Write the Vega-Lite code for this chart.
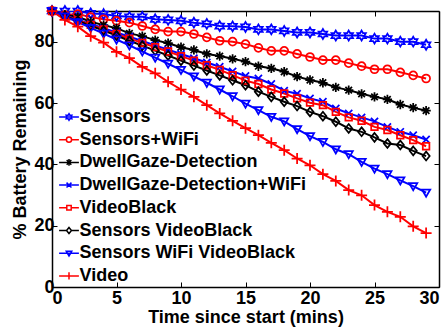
{
  "$schema": "https://vega.github.io/schema/vega-lite/v6.json",
  "width": 387,
  "height": 276,
  "autosize": {"type": "none"},
  "padding": {"left": 52, "top": 11, "right": 9, "bottom": 44},
  "background": "white",
  "config": {
    "view": {"stroke": null},
    "font": "Liberation Sans",
    "axis": {
      "domainColor": "black", "domainWidth": 1.5, "tickColor": "black", "tickWidth": 1,
      "labelFont": "Liberation Sans", "labelFontWeight": "bold", "labelFontSize": 18, "labelColor": "black",
      "titleFont": "Liberation Sans", "titleFontWeight": "bold", "titleFontSize": 18, "titleColor": "black",
      "grid": false, "tickSize": -5
    }
  },
  "data": {"values": [
    {"s":"Sensors","t":0,"v":90},{"s":"Sensors","t":1,"v":90},{"s":"Sensors","t":2,"v":90},{"s":"Sensors","t":3,"v":89.2},{"s":"Sensors","t":4,"v":89},{"s":"Sensors","t":5,"v":88.4},{"s":"Sensors","t":6,"v":88.1},{"s":"Sensors","t":7,"v":88.1},{"s":"Sensors","t":8,"v":87.3},{"s":"Sensors","t":9,"v":87.1},{"s":"Sensors","t":10,"v":86.8},{"s":"Sensors","t":11,"v":86.2},{"s":"Sensors","t":12,"v":85.8},{"s":"Sensors","t":13,"v":85.1},{"s":"Sensors","t":14,"v":85},{"s":"Sensors","t":15,"v":84.8},{"s":"Sensors","t":16,"v":84},{"s":"Sensors","t":17,"v":84},{"s":"Sensors","t":18,"v":83.5},{"s":"Sensors","t":19,"v":83},{"s":"Sensors","t":20,"v":83},{"s":"Sensors","t":21,"v":82.5},{"s":"Sensors","t":22,"v":82},{"s":"Sensors","t":23,"v":82},{"s":"Sensors","t":24,"v":82},{"s":"Sensors","t":25,"v":81},{"s":"Sensors","t":26,"v":81},{"s":"Sensors","t":27,"v":80},{"s":"Sensors","t":28,"v":80},{"s":"Sensors","t":29,"v":79},
    {"s":"Sensors+WiFi","t":0,"v":90},{"s":"Sensors+WiFi","t":1,"v":88.7},{"s":"Sensors+WiFi","t":2,"v":89},{"s":"Sensors+WiFi","t":3,"v":88},{"s":"Sensors+WiFi","t":4,"v":87.3},{"s":"Sensors+WiFi","t":5,"v":86.8},{"s":"Sensors+WiFi","t":6,"v":86.2},{"s":"Sensors+WiFi","t":7,"v":85.1},{"s":"Sensors+WiFi","t":8,"v":84},{"s":"Sensors+WiFi","t":9,"v":83.3},{"s":"Sensors+WiFi","t":10,"v":83.3},{"s":"Sensors+WiFi","t":11,"v":82.5},{"s":"Sensors+WiFi","t":12,"v":81.4},{"s":"Sensors+WiFi","t":13,"v":80.3},{"s":"Sensors+WiFi","t":14,"v":80},{"s":"Sensors+WiFi","t":15,"v":79.2},{"s":"Sensors+WiFi","t":16,"v":78},{"s":"Sensors+WiFi","t":17,"v":77},{"s":"Sensors+WiFi","t":18,"v":77},{"s":"Sensors+WiFi","t":19,"v":76},{"s":"Sensors+WiFi","t":20,"v":75},{"s":"Sensors+WiFi","t":21,"v":74},{"s":"Sensors+WiFi","t":22,"v":74},{"s":"Sensors+WiFi","t":23,"v":73},{"s":"Sensors+WiFi","t":24,"v":72},{"s":"Sensors+WiFi","t":25,"v":71},{"s":"Sensors+WiFi","t":26,"v":71},{"s":"Sensors+WiFi","t":27,"v":70},{"s":"Sensors+WiFi","t":28,"v":69},{"s":"Sensors+WiFi","t":29,"v":68},
    {"s":"DwellGaze-Detection","t":0,"v":90},{"s":"DwellGaze-Detection","t":1,"v":88.7},{"s":"DwellGaze-Detection","t":2,"v":88.1},{"s":"DwellGaze-Detection","t":3,"v":86.5},{"s":"DwellGaze-Detection","t":4,"v":85.4},{"s":"DwellGaze-Detection","t":5,"v":84.4},{"s":"DwellGaze-Detection","t":6,"v":82.7},{"s":"DwellGaze-Detection","t":7,"v":81.8},{"s":"DwellGaze-Detection","t":8,"v":80.5},{"s":"DwellGaze-Detection","t":9,"v":79.5},{"s":"DwellGaze-Detection","t":10,"v":78.2},{"s":"DwellGaze-Detection","t":11,"v":77.3},{"s":"DwellGaze-Detection","t":12,"v":76},{"s":"DwellGaze-Detection","t":13,"v":75.3},{"s":"DwellGaze-Detection","t":14,"v":74.4},{"s":"DwellGaze-Detection","t":15,"v":73.5},{"s":"DwellGaze-Detection","t":16,"v":72},{"s":"DwellGaze-Detection","t":17,"v":71.3},{"s":"DwellGaze-Detection","t":18,"v":70.2},{"s":"DwellGaze-Detection","t":19,"v":68.6},{"s":"DwellGaze-Detection","t":20,"v":67.5},{"s":"DwellGaze-Detection","t":21,"v":66.6},{"s":"DwellGaze-Detection","t":22,"v":65.1},{"s":"DwellGaze-Detection","t":23,"v":64.2},{"s":"DwellGaze-Detection","t":24,"v":63},{"s":"DwellGaze-Detection","t":25,"v":62},{"s":"DwellGaze-Detection","t":26,"v":61.2},{"s":"DwellGaze-Detection","t":27,"v":59.5},{"s":"DwellGaze-Detection","t":28,"v":58.5},{"s":"DwellGaze-Detection","t":29,"v":57.5},
    {"s":"DwellGaze-Detection+WiFi","t":0,"v":90},{"s":"DwellGaze-Detection+WiFi","t":1,"v":88.6},{"s":"DwellGaze-Detection+WiFi","t":2,"v":87.2},{"s":"DwellGaze-Detection+WiFi","t":3,"v":85.8},{"s":"DwellGaze-Detection+WiFi","t":4,"v":84.4},{"s":"DwellGaze-Detection+WiFi","t":5,"v":83},{"s":"DwellGaze-Detection+WiFi","t":6,"v":81.6},{"s":"DwellGaze-Detection+WiFi","t":7,"v":80.2},{"s":"DwellGaze-Detection+WiFi","t":8,"v":78.8},{"s":"DwellGaze-Detection+WiFi","t":9,"v":77.4},{"s":"DwellGaze-Detection+WiFi","t":10,"v":76},{"s":"DwellGaze-Detection+WiFi","t":11,"v":74.6},{"s":"DwellGaze-Detection+WiFi","t":12,"v":73.2},{"s":"DwellGaze-Detection+WiFi","t":13,"v":71.8},{"s":"DwellGaze-Detection+WiFi","t":14,"v":70.3},{"s":"DwellGaze-Detection+WiFi","t":15,"v":68.8},{"s":"DwellGaze-Detection+WiFi","t":16,"v":68},{"s":"DwellGaze-Detection+WiFi","t":17,"v":66.2},{"s":"DwellGaze-Detection+WiFi","t":18,"v":64},{"s":"DwellGaze-Detection+WiFi","t":19,"v":63},{"s":"DwellGaze-Detection+WiFi","t":20,"v":61.5},{"s":"DwellGaze-Detection+WiFi","t":21,"v":60.4},{"s":"DwellGaze-Detection+WiFi","t":22,"v":58.2},{"s":"DwellGaze-Detection+WiFi","t":23,"v":56.6},{"s":"DwellGaze-Detection+WiFi","t":24,"v":55.3},{"s":"DwellGaze-Detection+WiFi","t":25,"v":54},{"s":"DwellGaze-Detection+WiFi","t":26,"v":52.2},{"s":"DwellGaze-Detection+WiFi","t":27,"v":50.6},{"s":"DwellGaze-Detection+WiFi","t":28,"v":49.5},{"s":"DwellGaze-Detection+WiFi","t":29,"v":48.1},
    {"s":"VideoBlack","t":0,"v":90},{"s":"VideoBlack","t":1,"v":88.5},{"s":"VideoBlack","t":2,"v":87},{"s":"VideoBlack","t":3,"v":85.5},{"s":"VideoBlack","t":4,"v":84},{"s":"VideoBlack","t":5,"v":82.5},{"s":"VideoBlack","t":6,"v":81},{"s":"VideoBlack","t":7,"v":79.6},{"s":"VideoBlack","t":8,"v":78.2},{"s":"VideoBlack","t":9,"v":76.8},{"s":"VideoBlack","t":10,"v":75.3},{"s":"VideoBlack","t":11,"v":73.8},{"s":"VideoBlack","t":12,"v":72.3},{"s":"VideoBlack","t":13,"v":70.8},{"s":"VideoBlack","t":14,"v":69.1},{"s":"VideoBlack","t":15,"v":67.3},{"s":"VideoBlack","t":16,"v":66.2},{"s":"VideoBlack","t":17,"v":64.4},{"s":"VideoBlack","t":18,"v":63.1},{"s":"VideoBlack","t":19,"v":61.5},{"s":"VideoBlack","t":20,"v":60.1},{"s":"VideoBlack","t":21,"v":59.3},{"s":"VideoBlack","t":22,"v":57.1},{"s":"VideoBlack","t":23,"v":55.3},{"s":"VideoBlack","t":24,"v":54.2},{"s":"VideoBlack","t":25,"v":52.2},{"s":"VideoBlack","t":26,"v":51.2},{"s":"VideoBlack","t":27,"v":49.5},{"s":"VideoBlack","t":28,"v":47.9},{"s":"VideoBlack","t":29,"v":45.9},
    {"s":"Sensors VideoBlack","t":0,"v":90},{"s":"Sensors VideoBlack","t":1,"v":88.4},{"s":"Sensors VideoBlack","t":2,"v":86.8},{"s":"Sensors VideoBlack","t":3,"v":85.2},{"s":"Sensors VideoBlack","t":4,"v":83.6},{"s":"Sensors VideoBlack","t":5,"v":82},{"s":"Sensors VideoBlack","t":6,"v":80.3},{"s":"Sensors VideoBlack","t":7,"v":78.7},{"s":"Sensors VideoBlack","t":8,"v":77.1},{"s":"Sensors VideoBlack","t":9,"v":75.5},{"s":"Sensors VideoBlack","t":10,"v":73.8},{"s":"Sensors VideoBlack","t":11,"v":72.2},{"s":"Sensors VideoBlack","t":12,"v":70.6},{"s":"Sensors VideoBlack","t":13,"v":69},{"s":"Sensors VideoBlack","t":14,"v":67.4},{"s":"Sensors VideoBlack","t":15,"v":65.8},{"s":"Sensors VideoBlack","t":16,"v":63.7},{"s":"Sensors VideoBlack","t":17,"v":62},{"s":"Sensors VideoBlack","t":18,"v":60.4},{"s":"Sensors VideoBlack","t":19,"v":59},{"s":"Sensors VideoBlack","t":20,"v":57.1},{"s":"Sensors VideoBlack","t":21,"v":55.7},{"s":"Sensors VideoBlack","t":22,"v":53.9},{"s":"Sensors VideoBlack","t":23,"v":51.7},{"s":"Sensors VideoBlack","t":24,"v":50.6},{"s":"Sensors VideoBlack","t":25,"v":48.8},{"s":"Sensors VideoBlack","t":26,"v":46.8},{"s":"Sensors VideoBlack","t":27,"v":46.3},{"s":"Sensors VideoBlack","t":28,"v":44.4},{"s":"Sensors VideoBlack","t":29,"v":42.7},
    {"s":"Sensors WiFi VideoBlack","t":0,"v":90},{"s":"Sensors WiFi VideoBlack","t":1,"v":88.2},{"s":"Sensors WiFi VideoBlack","t":2,"v":86.4},{"s":"Sensors WiFi VideoBlack","t":3,"v":84.5},{"s":"Sensors WiFi VideoBlack","t":4,"v":82.6},{"s":"Sensors WiFi VideoBlack","t":5,"v":80.7},{"s":"Sensors WiFi VideoBlack","t":6,"v":78.8},{"s":"Sensors WiFi VideoBlack","t":7,"v":76.8},{"s":"Sensors WiFi VideoBlack","t":8,"v":74.8},{"s":"Sensors WiFi VideoBlack","t":9,"v":72.8},{"s":"Sensors WiFi VideoBlack","t":10,"v":70.8},{"s":"Sensors WiFi VideoBlack","t":11,"v":68.7},{"s":"Sensors WiFi VideoBlack","t":12,"v":66.6},{"s":"Sensors WiFi VideoBlack","t":13,"v":64.4},{"s":"Sensors WiFi VideoBlack","t":14,"v":62.2},{"s":"Sensors WiFi VideoBlack","t":15,"v":59.8},{"s":"Sensors WiFi VideoBlack","t":16,"v":57.7},{"s":"Sensors WiFi VideoBlack","t":17,"v":55.5},{"s":"Sensors WiFi VideoBlack","t":18,"v":54},{"s":"Sensors WiFi VideoBlack","t":19,"v":51.5},{"s":"Sensors WiFi VideoBlack","t":20,"v":49.2},{"s":"Sensors WiFi VideoBlack","t":21,"v":47.3},{"s":"Sensors WiFi VideoBlack","t":22,"v":44.9},{"s":"Sensors WiFi VideoBlack","t":23,"v":43.3},{"s":"Sensors WiFi VideoBlack","t":24,"v":40.8},{"s":"Sensors WiFi VideoBlack","t":25,"v":38.6},{"s":"Sensors WiFi VideoBlack","t":26,"v":36.8},{"s":"Sensors WiFi VideoBlack","t":27,"v":34.8},{"s":"Sensors WiFi VideoBlack","t":28,"v":32.9},{"s":"Sensors WiFi VideoBlack","t":29,"v":30.8},
    {"s":"Video","t":0,"v":90},{"s":"Video","t":1,"v":87.1},{"s":"Video","t":2,"v":84.9},{"s":"Video","t":3,"v":81.8},{"s":"Video","t":4,"v":79.7},{"s":"Video","t":5,"v":76.7},{"s":"Video","t":6,"v":74.6},{"s":"Video","t":7,"v":71.8},{"s":"Video","t":8,"v":69.7},{"s":"Video","t":9,"v":66.9},{"s":"Video","t":10,"v":64.4},{"s":"Video","t":11,"v":62},{"s":"Video","t":12,"v":59.3},{"s":"Video","t":13,"v":56.6},{"s":"Video","t":14,"v":54.2},{"s":"Video","t":15,"v":51.8},{"s":"Video","t":16,"v":49.5},{"s":"Video","t":17,"v":47},{"s":"Video","t":18,"v":44.6},{"s":"Video","t":19,"v":41.9},{"s":"Video","t":20,"v":39.7},{"s":"Video","t":21,"v":36.8},{"s":"Video","t":22,"v":34.6},{"s":"Video","t":23,"v":31.6},{"s":"Video","t":24,"v":29.9},{"s":"Video","t":25,"v":26.7},{"s":"Video","t":26,"v":24.5},{"s":"Video","t":27,"v":22.9},{"s":"Video","t":28,"v":19.8},{"s":"Video","t":29,"v":17.6}
  ]},
  "resolve": {
    "scale": {"shape": "independent", "color": "independent"},
    "axis": {"x": "independent", "y": "independent"},
    "legend": {"shape": "independent", "color": "independent"}
  },
  "layer": [
    {
      "mark": {"type": "line", "strokeWidth": 2, "clip": true},
      "encoding": {
        "x": {"field": "t", "type": "quantitative", "scale": {"domain": [0, 30], "nice": false},
              "axis": {"orient": "bottom", "values": [0,5,10,15,20,25,30], "title": "Time since start (mins)", "labelPadding": 7, "titlePadding": 1}},
        "y": {"field": "v", "type": "quantitative", "scale": {"domain": [0, 90], "nice": false},
              "axis": {"orient": "left", "values": [0,20,40,60,80], "title": "% Battery Remaining", "labelPadding": 3, "titlePadding": 4}},
        "color": {"field": "s", "type": "nominal", "legend": null,
                  "scale": {"domain": ["Sensors","Sensors+WiFi","DwellGaze-Detection","DwellGaze-Detection+WiFi","VideoBlack","Sensors VideoBlack","Sensors WiFi VideoBlack","Video"],
                            "range": ["#0000ff","#ff0000","#000000","#0000ff","#ff0000","#000000","#0000ff","#ff0000"]}}
      }
    },
    {
      "mark": {"type": "point", "filled": false, "strokeWidth": 1.75, "size": 121, "opacity": 1},
      "encoding": {
        "x": {"field": "t", "type": "quantitative", "axis": null},
        "y": {"field": "v", "type": "quantitative", "axis": null},
        "color": {"field": "s", "type": "nominal", "legend": null,
                  "scale": {"domain": ["Sensors","Sensors+WiFi","DwellGaze-Detection","DwellGaze-Detection+WiFi","VideoBlack","Sensors VideoBlack","Sensors WiFi VideoBlack","Video"],
                            "range": ["#0000ff","#ff0000","#000000","#0000ff","#ff0000","#000000","#0000ff","#ff0000"]}},
        "shape": {"field": "s", "type": "nominal", "legend": null,
                  "scale": {"domain": ["Sensors","Sensors+WiFi","DwellGaze-Detection","DwellGaze-Detection+WiFi","VideoBlack","Sensors VideoBlack","Sensors WiFi VideoBlack","Video"],
                            "range": [
                              "M0,-0.9L0.26,-0.45L0.78,-0.45L0.52,0L0.78,0.45L0.26,0.45L0,0.9L-0.26,0.45L-0.78,0.45L-0.52,0L-0.78,-0.45L-0.26,-0.45Z",
                              "M0.72,0A0.72,0.72,0,1,1,-0.72,0A0.72,0.72,0,1,1,0.72,0Z",
                              "M-0.85,0L0.85,0M0,-0.85L0,0.85M-0.6,-0.6L0.6,0.6M-0.6,0.6L0.6,-0.6",
                              "M-0.65,-0.65L0.65,0.65M-0.65,0.65L0.65,-0.65",
                              "M-0.6,-0.6L0.6,-0.6L0.6,0.6L-0.6,0.6Z",
                              "M0,-0.8L0.65,0L0,0.8L-0.65,0Z",
                              "M-0.75,-0.55L0.75,-0.55L0,0.75Z",
                              "M-1,0L1,0M0,-1L0,1"
                            ]}}
      }
    },
    {
      "transform": [{"filter": "datum.t < 0"}],
      "mark": {"type": "point", "filled": false, "strokeWidth": 1.5, "size": 121, "opacity": 1},
      "encoding": {
        "x": {"field": "t", "type": "quantitative",
              "axis": {"orient": "top", "values": [0,5,10,15,20,25,30], "labels": false, "title": null}},
        "y": {"field": "v", "type": "quantitative",
              "axis": {"orient": "right", "values": [0,20,40,60,80], "labels": false, "title": null}},
        "color": {"field": "s", "type": "nominal",
                  "scale": {"domain": ["Sensors","Sensors+WiFi","DwellGaze-Detection","DwellGaze-Detection+WiFi","VideoBlack","Sensors VideoBlack","Sensors WiFi VideoBlack","Video"],
                            "range": ["#0000ff","#ff0000","#000000","#0000ff","#ff0000","#000000","#0000ff","#ff0000"]},
                  "legend": {
                    "title": null, "orient": "none", "legendX": 8, "legendY": 97,
                    "labelFont": "Liberation Sans", "labelFontWeight": "bold", "labelFontSize": 18, "labelColor": "black",
                    "symbolSize": 121, "symbolStrokeWidth": 1.5, "labelOffset": 1.5, "rowPadding": 4.7, "labelLimit": 400
                  }},
        "shape": {"field": "s", "type": "nominal",
                  "scale": {"domain": ["Sensors","Sensors+WiFi","DwellGaze-Detection","DwellGaze-Detection+WiFi","VideoBlack","Sensors VideoBlack","Sensors WiFi VideoBlack","Video"],
                            "range": [
                              "M-1.8,0L1.8,0M0,-0.6L0.17,-0.3L0.52,-0.3L0.35,0L0.52,0.3L0.17,0.3L0,0.6L-0.17,0.3L-0.52,0.3L-0.35,0L-0.52,-0.3L-0.17,-0.3Z",
                              "M-1.8,0L-0.47,0M0.47,0L1.8,0M0.47,0A0.47,0.47,0,1,1,-0.47,0A0.47,0.47,0,1,1,0.47,0Z",
                              "M-1.8,0L1.8,0M0,-0.6L0,0.6M-0.42,-0.42L0.42,0.42M-0.42,0.42L0.42,-0.42",
                              "M-1.8,0L1.8,0M-0.45,-0.45L0.45,0.45M-0.45,0.45L0.45,-0.45",
                              "M-1.8,0L-0.4,0M0.4,0L1.8,0M-0.4,-0.4L0.4,-0.4L0.4,0.4L-0.4,0.4Z",
                              "M-1.8,0L-0.45,0M0.45,0L1.8,0M0,-0.55L0.45,0L0,0.55L-0.45,0Z",
                              "M-1.8,0L1.8,0M-0.5,-0.37L0.5,-0.37L0,0.5Z",
                              "M-1.8,0L1.8,0M0,-0.65L0,0.65"
                            ]},
                  "legend": {
                    "title": null, "orient": "none", "legendX": 8, "legendY": 97,
                    "labelFont": "Liberation Sans", "labelFontWeight": "bold", "labelFontSize": 18, "labelColor": "black",
                    "symbolSize": 121, "symbolStrokeWidth": 1.5, "labelOffset": 1.5, "rowPadding": 4.7, "labelLimit": 400
                  }}
      }
    }
  ]
}
